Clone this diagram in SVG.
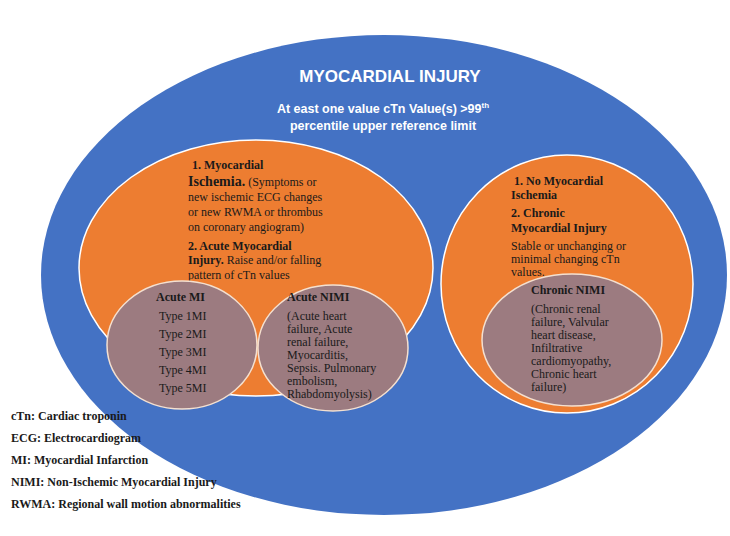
<svg xmlns="http://www.w3.org/2000/svg" width="730" height="536" viewBox="0 0 730 536">
<style>
.s{font-family:"Liberation Serif",serif;font-size:12px;fill:#1a1a1a}
.b{font-weight:bold}
.h{font-family:"Liberation Sans",sans-serif;font-weight:bold;fill:#fff}
.o{fill:#ED7D31;stroke:#fff;stroke-width:1.5}
.m{fill:#9C7B80;stroke:#f4e0d0;stroke-width:1.5}
</style>
<rect width="730" height="536" fill="#fff"/>
<g id="injury">
<ellipse cx="384" cy="275" rx="343" ry="240" fill="#4472C4"/>
<text class="h" x="390" y="82" font-size="17" text-anchor="middle">MYOCARDIAL INJURY</text>
<text class="h" x="383" y="113" font-size="12.5" text-anchor="middle">At east one value cTn Value(s) &gt;99<tspan font-size="8" dy="-5">th</tspan></text>
<text class="h" x="383" y="130" font-size="12.5" text-anchor="middle">percentile upper reference limit</text>
</g>
<g id="acute">
<ellipse class="o" cx="256" cy="268" rx="177" ry="128"/>
<text class="s b" x="192" y="169" font-size="14">1. Myocardial</text>
<text class="s" x="188" y="186"><tspan class="b" font-size="14">Ischemia.</tspan> (Symptoms  or</text>
<text class="s" x="188" y="201">new ischemic  ECG changes</text>
<text class="s" x="188" y="216">or new RWMA or thrombus</text>
<text class="s" x="188" y="231">on coronary  angiogram)</text>
<text class="s b" x="188" y="250">2. Acute Myocardial</text>
<text class="s" x="188" y="264"><tspan class="b">Injury.</tspan> Raise and/or falling</text>
<text class="s" x="188" y="279">pattern  of cTn values</text>
</g>
<g id="acute-mi">
<ellipse class="m" cx="182" cy="345" rx="75" ry="64"/>
<text class="s b" x="156" y="301">Acute MI</text>
<text class="s" x="159" y="320">Type 1MI</text>
<text class="s" x="159" y="338">Type 2MI</text>
<text class="s" x="159" y="356">Type 3MI</text>
<text class="s" x="159" y="374">Type 4MI</text>
<text class="s" x="159" y="392">Type 5MI</text>
</g>
<g id="acute-nimi">
<ellipse class="m" cx="333" cy="348" rx="75" ry="63"/>
<text class="s b" x="287" y="301">Acute NIMI</text>
<text class="s" x="287" y="320">(Acute heart</text>
<text class="s" x="287" y="333">failure,  Acute</text>
<text class="s" x="287" y="346">renal failure,</text>
<text class="s" x="287" y="359">Myocarditis,</text>
<text class="s" x="287" y="372">Sepsis. Pulmonary</text>
<text class="s" x="287" y="385">embolism,</text>
<text class="s" x="287" y="398">Rhabdomyolysis)</text>
</g>
<g id="chronic">
<ellipse class="o" cx="567" cy="284" rx="126" ry="129"/>
<text class="s b" x="514" y="185" font-size="11.5">1. No Myocardial</text>
<text class="s b" x="511" y="199" font-size="11.5">Ischemia</text>
<text class="s b" x="511" y="217" font-size="13">2. Chronic</text>
<text class="s b" x="511" y="232" font-size="13">Myocardial Injury</text>
<text class="s" x="511" y="250">Stable or unchanging  or</text>
<text class="s" x="511" y="263">minimal  changing  cTn</text>
<text class="s" x="511" y="276">values.</text>
</g>
<g id="chronic-nimi">
<ellipse class="m" cx="572" cy="340" rx="90" ry="66"/>
<text class="s b" x="531" y="294">Chronic NIMI</text>
<text class="s" x="531" y="313">(Chronic  renal</text>
<text class="s" x="531" y="326">failure,  Valvular</text>
<text class="s" x="531" y="339">heart disease,</text>
<text class="s" x="531" y="352">Infiltrative</text>
<text class="s" x="531" y="365">cardiomyopathy,</text>
<text class="s" x="531" y="378">Chronic  heart</text>
<text class="s" x="531" y="391">failure)</text>
</g>
<g id="legend">
<text class="s b" x="11" y="420">cTn: Cardiac troponin</text>
<text class="s b" x="11" y="442">ECG: Electrocardiogram</text>
<text class="s b" x="11" y="464">MI: Myocardial Infarction</text>
<text class="s b" x="11" y="486">NIMI: Non-Ischemic Myocardial Injury</text>
<text class="s b" x="11" y="508">RWMA: Regional wall motion abnormalities</text>
</g>
<g id="connectors"/>
</svg>
